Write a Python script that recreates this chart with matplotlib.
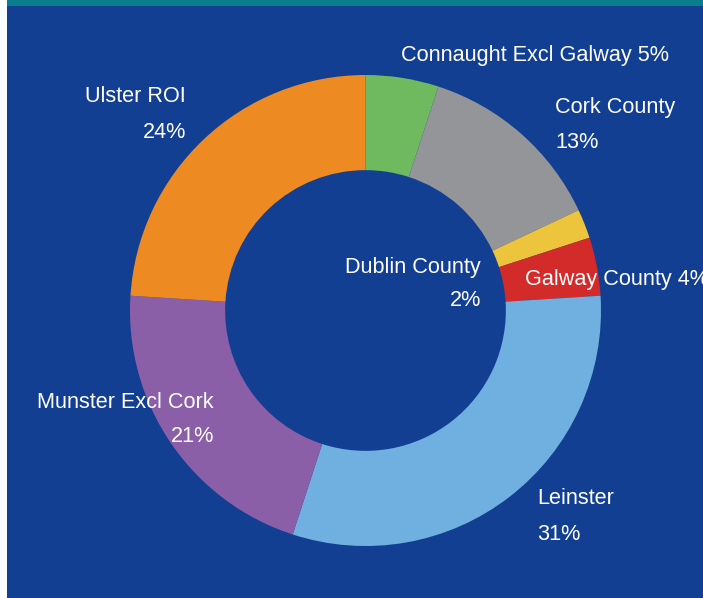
import matplotlib
matplotlib.use("Agg")
import matplotlib.pyplot as plt
from matplotlib.patches import Rectangle

categories = ["Connaught Excl Galway", "Cork County", "Dublin County", "Galway County",
              "Leinster", "Munster Excl Cork", "Ulster ROI"]
shares = [5, 13, 2, 4, 31, 21, 24]
colors = ["#6fba5f", "#939598", "#ecc53c", "#d32a2a", "#6fb0e0", "#8b5ea8", "#ee8a22"]

W, H = 703, 598
fig = plt.figure(figsize=(W / 100, H / 100), dpi=100)
fig.patch.set_facecolor("white")
ax = fig.add_axes([0, 0, 1, 1])
ax.set_xlim(0, W)
ax.set_ylim(0, H)
ax.set_aspect("equal")
ax.axis("off")

BLUE = "#133f93"
ax.add_patch(Rectangle((7, 0), W - 7, H - 6, facecolor=BLUE, edgecolor="none", zorder=0))
ax.add_patch(Rectangle((7, H - 6), W - 7, 6, facecolor="#0b7e8e", edgecolor="none", zorder=0))

cx, cy, R = 365.5, H - 310.5, 235.5
ax.pie(shares, colors=colors, startangle=90, counterclock=False,
       center=(cx, cy), radius=R, frame=True,
       wedgeprops=dict(width=R * 0.404, edgecolor="none"))
ax.set_xlim(0, W)
ax.set_ylim(0, H)
ax.axis("off")

font = dict(family=["Liberation Sans", "DejaVu Sans"], fontsize=15.6, color="white")

def lab(x, y, s, ha):
    ax.text(x, H - y, s, ha=ha, va="center", zorder=5, **font)

lab(401, 55, f"{categories[0]} {shares[0]}%", "left")
lab(555, 108, categories[1], "left")
lab(555, 143, f"{shares[1]}%", "left")
lab(481, 267, categories[2], "right")
lab(481, 300, f"{shares[2]}%", "right")
lab(525, 279, f"{categories[3]} {shares[3]}%", "left")
lab(537, 499, categories[4], "left")
lab(537, 534, f"{shares[4]}%", "left")
lab(214, 402, categories[5], "right")
lab(214, 436, f"{shares[5]}%", "right")
lab(186, 97, categories[6], "right")
lab(186, 132, f"{shares[6]}%", "right")

fig.savefig("out.png", dpi=100, facecolor="white")
